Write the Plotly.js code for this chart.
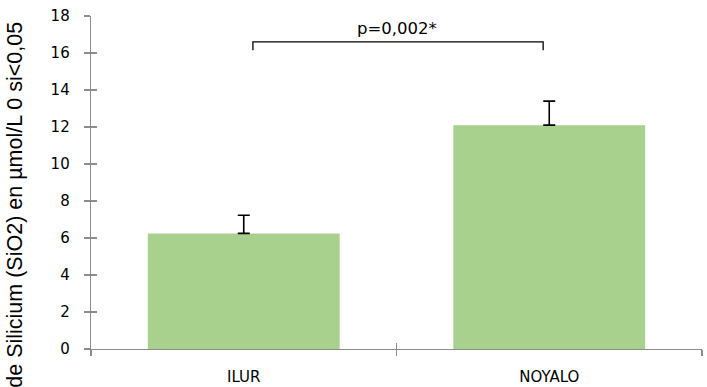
<!DOCTYPE html>
<html>
<head>
<meta charset="utf-8">
<script src="https://cdn.plot.ly/plotly-3.0.1.min.js"></script>
<style>html,body{margin:0;padding:0;background:#fff;}#chart{width:707px;height:387px;}</style>
</head>
<body>
<div id="chart"></div>
<script>
const categories = ["ILUR", "NOYALO"];
const values = [6.25, 12.1];
const errorsUp = [0.98, 1.3];
const errorsDown = [0, 0];
const pLabel = "p=0,002*";
const yTitle = "Concentration de Silicium (SiO2) en µmol/L 0 si<0,05";
const bracketTop = 16.6;
const bracketBottom = 16.15;

const green = "#a9d18e";
const axisColor = "#8c8c8c";
const font = "DejaVu Sans, sans-serif";

const traces = [
  {
    type: "bar", x: categories, y: values,
    marker: {color: green},
    error_y: {type: "data", symmetric: false, array: errorsUp, arrayminus: errorsDown,
              color: "#000", thickness: 1.6, width: 6},
    hoverinfo: "skip", showlegend: false
  },
  {
    type: "bar", x: categories, y: values, xaxis: "x2", yaxis: "y2",
    marker: {color: "rgba(0,0,0,0)"}, hoverinfo: "skip", showlegend: false
  }
];

const axisCommon = {showgrid: false, zeroline: false, showline: true, linecolor: axisColor, linewidth: 1.3,
                    tickcolor: axisColor, tickwidth: 1.3, ticklen: 6};

const layout = {
  width: 707, height: 387,
  margin: {l: 91, r: 5, t: 16, b: 38},
  paper_bgcolor: "#fff", plot_bgcolor: "#fff",
  bargap: 0.372,
  font: {family: font, size: 15, color: "#000"},
  xaxis: Object.assign({}, axisCommon, {type: "category", tickson: "boundaries", ticks: "outside",
          tickfont: {family: font, size: 15, color: "#000"}, ticklabelstandoff: 14, fixedrange: true}),
  yaxis: Object.assign({}, axisCommon, {range: [0, 18], dtick: 2, ticks: "outside",
          tickfont: {family: font, size: 15, color: "#000"}, ticklabelstandoff: 11}),
  xaxis2: Object.assign({}, axisCommon, {type: "category", tickson: "boundaries", ticks: "inside",
          overlaying: "x", matches: "x", showticklabels: false}),
  yaxis2: Object.assign({}, axisCommon, {range: [0, 18], dtick: 2, ticks: "inside",
          overlaying: "y", matches: "y", showticklabels: false}),
  shapes: [
    {type: "path", xref: "x", yref: "y",
     path: "M 0.03," + bracketBottom + " L 0.03," + bracketTop + " L 0.98," + bracketTop + " L 0.98," + bracketBottom,
     line: {color: "#000", width: 1.3}}
  ],
  annotations: [
    {text: pLabel, xref: "paper", yref: "y", x: 0.5, y: bracketTop, yanchor: "bottom", yshift: 2,
     showarrow: false, font: {family: font, size: 16.5, color: "#000"}},
    {text: yTitle, textangle: -90, xref: "paper", yref: "paper", x: -0.124, xanchor: "center",
     y: 0.99, yanchor: "top", showarrow: false,
     font: {family: "Liberation Sans, Arial, sans-serif", size: 21.5, color: "#000"}}
  ]
};

Plotly.newPlot("chart", traces, layout, {staticPlot: true, displayModeBar: false});
</script>
</body>
</html>
